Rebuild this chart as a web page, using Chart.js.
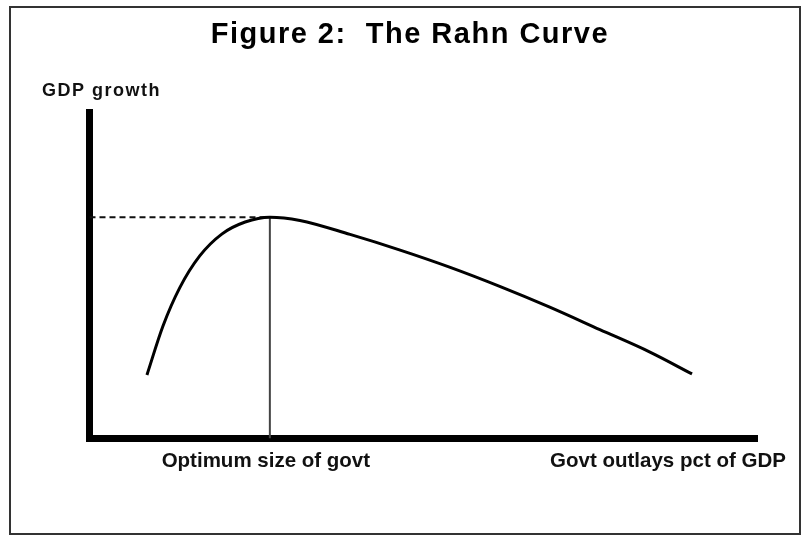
<!DOCTYPE html>
<html>
<head>
<meta charset="utf-8">
<script src="https://cdn.jsdelivr.net/npm/chart.js@4.4.1/dist/chart.umd.min.js"></script>
<style>
  body { margin: 0; background: #fff; }
  #wrap { position: relative; width: 806px; height: 536px; }
  #frame {
    position: absolute; left: 9px; top: 6px; width: 792px; height: 529px;
    box-sizing: border-box; border: 2px solid #333; pointer-events: none;
  }
</style>
</head>
<body>
<div id="wrap">
  <canvas id="rahnChart" width="806" height="536"></canvas>
  <div id="frame"></div>
</div>
<script>
// Rahn curve (x: size of govt, y: GDP growth, both 0-100)
const govtSize = [8.6, 11.0, 13.5, 16.5, 19.8, 23.3, 27.0, 31.5, 39.0, 46.5, 54.0, 61.5, 68.9, 76.4, 83.9, 90.2];
const growth   = [19.5, 34.5, 46.2, 56.0, 62.7, 66.4, 67.9, 66.9, 62.6, 57.8, 52.5, 46.6, 40.3, 33.4, 26.5, 19.8];

// the optimum (peak of the curve)
const optimumSize = 27.0;
const optimumGrowth = 67.9;

// x axis labels
const tickValues = [26.4, 86.6];
const tickLabels = ['Optimum size of govt', 'Govt outlays pct of GDP'];

const FONT = "'Liberation Sans', Arial, sans-serif";

const curve = govtSize.map((x, i) => ({ x: x, y: growth[i] }));

// a little extra letter spacing for the title texts, normal for the axis labels
const spacingPlugin = {
  id: 'spacing',
  beforeDraw(chart) { chart.ctx.letterSpacing = '1.5px'; },
  beforeDatasetsDraw(chart) { chart.ctx.letterSpacing = '0px'; }
};

const config = {
  type: 'line',
  data: {
    datasets: [
      {
        label: 'Rahn curve',
        data: curve,
        borderColor: '#000',
        borderWidth: 3,
        pointRadius: 0,
        cubicInterpolationMode: 'monotone',
        fill: false
      },
      {
        label: 'Optimum growth',
        data: [{ x: 0, y: optimumGrowth }, { x: optimumSize, y: optimumGrowth }],
        borderColor: '#111',
        borderWidth: 2,
        borderDash: [6, 4],
        pointRadius: 0
      },
      {
        label: 'Optimum size',
        data: [{ x: optimumSize, y: 0 }, { x: optimumSize, y: optimumGrowth }],
        borderColor: '#444',
        borderWidth: 2,
        pointRadius: 0
      }
    ]
  },
  options: {
    responsive: false,
    animation: false,
    events: [],
    layout: { padding: { left: 42, right: 28.2, top: 8, bottom: 57.5 } },
    plugins: {
      legend: { display: false },
      tooltip: { enabled: false },
      title: {
        display: true,
        text: 'Figure 2:  The Rahn Curve',
        color: '#000',
        font: { family: FONT, size: 29, weight: 'bold' },
        padding: { top: 9.9, bottom: 10 }
      },
      subtitle: {
        display: true,
        text: 'GDP growth',
        align: 'start',
        color: '#111',
        font: { family: FONT, size: 18, weight: 'bold' },
        padding: { top: 17.3, bottom: 10.9 }
      }
    },
    scales: {
      x: {
        type: 'linear',
        min: 0,
        max: 100,
        grid: { display: false, drawTicks: false },
        border: { display: true, width: 7, color: '#000' },
        afterBuildTicks: (scale) => { scale.ticks = tickValues.map(v => ({ value: v })); },
        afterFit: (scale) => { scale.height = 40; },
        ticks: {
          z: 1,
          autoSkip: false,
          maxRotation: 0,
          padding: 11,
          color: '#111',
          font: { family: FONT, size: 20.5, weight: 'bold' },
          callback: (value, index) => tickLabels[index]
        }
      },
      y: {
        min: 0,
        max: 100,
        grid: { display: false, drawTicks: false },
        border: { display: true, width: 7, color: '#000' },
        ticks: { display: false },
        afterFit: (scale) => { scale.width = 47.5; }
      },
      y2: {
        position: 'right',
        min: 0,
        max: 100,
        grid: { display: false, drawTicks: false },
        border: { display: false },
        ticks: { display: false },
        afterFit: (scale) => { scale.width = 20.3; }
      }
    }
  },
  plugins: [spacingPlugin]
};

const rahnChart = new Chart(document.getElementById('rahnChart'), config);
</script>
</body>
</html>
